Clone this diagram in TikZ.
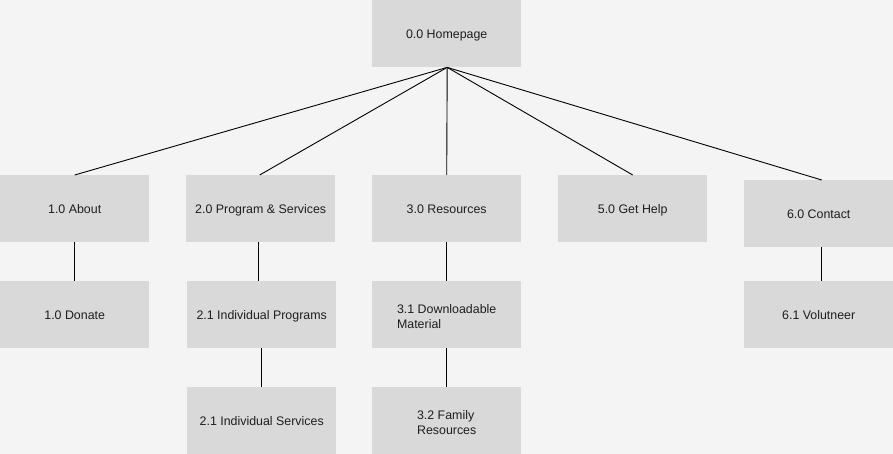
\documentclass[tikz,border=0pt]{standalone}
\usepackage{fontspec}
\setmainfont{Liberation Sans}
\definecolor{bg}{HTML}{F4F4F4}
\definecolor{boxc}{HTML}{D9D9D9}
\definecolor{txt}{HTML}{1E1E1E}
\newcommand{\lowstrut}{\rule{0pt}{12pt}}
\begin{document}
\begin{tikzpicture}[x=1pt,y=-1pt,
  pagebox/.style={rectangle, fill=boxc, draw=none, anchor=north west,
    minimum width=149pt, minimum height=67pt, inner sep=0pt,
    text=txt, font=\fontsize{12.4}{15}\selectfont},
  oneline/.style={text height=8.9pt, text depth=0pt},
  twoline/.style={align=left},
  link/.style={draw=black, line width=0.9pt}]
\fill[bg] (0,0) rectangle (893,454);
\useasboundingbox (0,0) rectangle (893,454);
\node[pagebox, oneline] (home) at (372,0) {0.0 Homepage};
\node[pagebox, oneline] (about) at (0,175) {1.0 About};
\node[pagebox, oneline] (prog) at (186,175) {2.0 Program \& Services};
\node[pagebox, oneline] (res) at (372,175) {3.0 Resources};
\node[pagebox, oneline] (help) at (558,175) {5.0 Get Help};
\node[pagebox, oneline] (contact) at (744,180) {6.0 Contact};
\node[pagebox, oneline] (donate) at (0,281) {1.0 Donate};
\node[pagebox, oneline] (iprog) at (187,281) {2.1 Individual Programs};
\node[pagebox, twoline] (dl) at (372,281) {\lowstrut 3.1 Downloadable\\Material};
\node[pagebox, oneline] (vol) at (744,281) {6.1 Volutneer};
\node[pagebox, oneline] (iserv) at (187,387) {2.1 Individual Services};
\node[pagebox, twoline] (fam) at (372,387) {\lowstrut 3.2 Family\\Resources};
\coordinate (hub) at ([xshift=0.5pt]home.south);
\draw[link] (hub) -- (about.north);
\draw[link] (hub) -- ([xshift=-1pt]prog.north);
\draw[link] (hub) -- (res.north);
\draw[link] (hub) -- (help.north);
\draw[link] (hub) -- ([xshift=3pt]contact.north);
\draw[link] (about.south) -- (donate.north);
\draw[link] ([xshift=-2pt]prog.south) -- ([xshift=-3pt]iprog.north);
\draw[link] (iprog.south) -- (iserv.north);
\draw[link] (res.south) -- (dl.north);
\draw[link] (dl.south) -- (fam.north);
\draw[link] ([xshift=3pt]contact.south) -- ([xshift=3pt]vol.north);
\end{tikzpicture}
\end{document}
